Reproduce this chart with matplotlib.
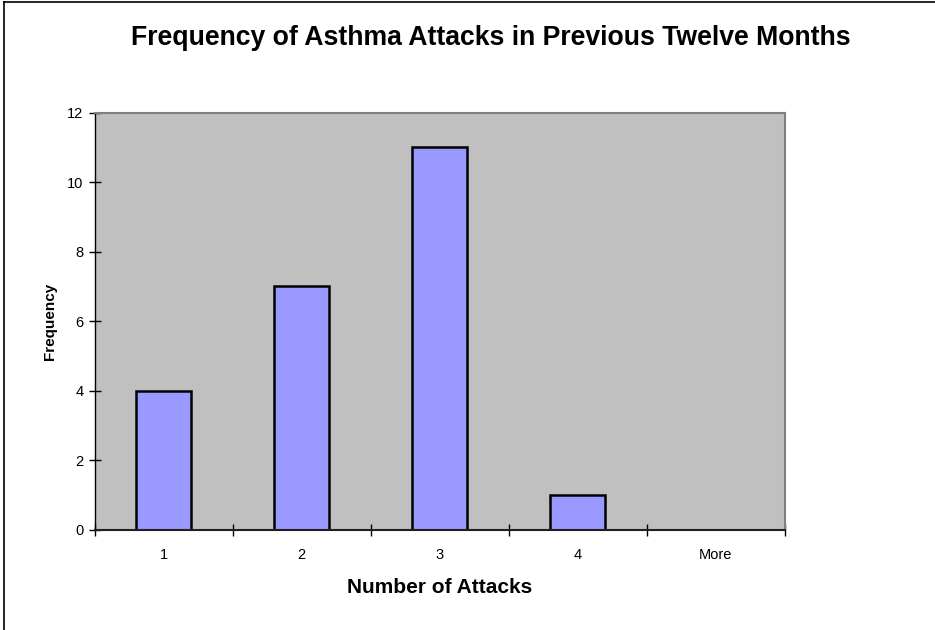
import matplotlib
matplotlib.use("Agg")
import matplotlib.pyplot as plt
from matplotlib.lines import Line2D
from matplotlib.ticker import FixedLocator, NullFormatter

plt.rcParams['font.family'] = ['Liberation Sans', 'DejaVu Sans']

categories = ['1', '2', '3', '4', 'More']
frequency = [4, 7, 11, 1, 0]
y_ticks = [0, 2, 4, 6, 8, 10, 12]

W, H = 935, 630
fig = plt.figure(figsize=(W / 100, H / 100), dpi=100)
fig.patch.set_facecolor('white')

# chart frame (top and left edges)
fig.add_artist(Line2D([4 / W, 4 / W], [0, 1 - 1.5 / H], transform=fig.transFigure,
                      color='black', lw=1.2))
fig.add_artist(Line2D([4 / W, 1], [1 - 1.5 / H, 1 - 1.5 / H], transform=fig.transFigure,
                      color='black', lw=1.2))

left, right, top, bottom = 94.5, 784.7, 112.5, 529.7
ax = fig.add_axes([left / W, 1 - bottom / H, (right - left) / W, (bottom - top) / H])
ax.set_facecolor('#C0C0C0')

xs = list(range(len(categories)))
for x, v in zip(xs, frequency):
    if v > 0:
        ax.bar(x, v, width=0.4, color='#9999FF', edgecolor='black', linewidth=1.8, zorder=3)

ax.set_xlim(-0.5, len(categories) - 0.5)
ax.set_ylim(0, 12)

ax.spines['top'].set_color('#808080')
ax.spines['right'].set_color('#808080')
ax.spines['top'].set_linewidth(1.5)
ax.spines['right'].set_linewidth(1.5)
ax.spines['left'].set_color('black')
ax.spines['bottom'].set_color('#202020')
ax.spines['left'].set_linewidth(1.0)
ax.spines['bottom'].set_linewidth(1.5)
ax.spines['bottom'].set_zorder(4)

ax.set_yticks(y_ticks)
ax.set_yticklabels([str(t) for t in y_ticks], fontsize=10.5)
ax.tick_params(axis='y', direction='inout', length=8, width=1, pad=4)

boundaries = [i - 0.5 for i in range(len(categories) + 1)]
ax.xaxis.set_major_locator(FixedLocator(boundaries))
ax.xaxis.set_major_formatter(NullFormatter())
ax.xaxis.set_minor_locator(FixedLocator(xs))
ax.set_xticklabels(categories, minor=True, fontsize=10.5)
ax.tick_params(axis='x', which='major', direction='inout', length=8, width=1)
ax.tick_params(axis='x', which='minor', length=0, pad=13)

ax.set_xlabel('Number of Attacks', fontsize=15, fontweight='bold', labelpad=12)
ax.set_ylabel('Frequency', fontsize=11, fontweight='bold', labelpad=7.5)

fig.text(491 / W, 1 - 38 / H, 'Frequency of Asthma Attacks in Previous Twelve Months',
         ha='center', va='center', fontsize=19.2, fontweight='bold')

fig.savefig('out.png', dpi=100)
